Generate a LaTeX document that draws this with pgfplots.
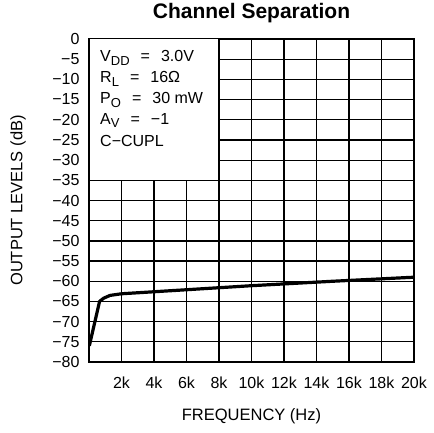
\documentclass[border=0pt]{standalone}
\usepackage{fontspec}
\setmainfont{Liberation Sans}
\usepackage{pgfplots}
\pgfplotsset{compat=1.18}
\newcommand{\sub}[1]{\raisebox{-0.45ex}{\fontsize{13}{13}\selectfont #1}}
\newcommand{\eq}{\hspace{11pt}=\hspace{11pt}}
\begin{document}
\begin{tikzpicture}
\begin{axis}[
  name=ax,
  scale only axis,
  width=325pt, height=323pt,
  xmin=0, xmax=20, ymin=-80, ymax=0,
  xtick={0,2,...,20},
  xticklabels={,2k,4k,6k,8k,10k,12k,14k,16k,18k,20k},
  ytick={-80,-75,...,0},
  yticklabels={−80,−75,−70,−65,−60,−55,−50,−45,−40,−35,−30,−25,−20,−15,−10,−5,0},
  tick label style={font=\fontsize{16}{16}\selectfont},
  xticklabel style={yshift=-11pt},
  yticklabel style={xshift=-6pt},
  grid=major,
  major grid style={black, line width=1.25pt},
  axis line style={black, line width=2pt},
  major tick length=0pt,
  xlabel={FREQUENCY (Hz)},
  ylabel={OUTPUT LEVELS (dB)},
  label style={font=\fontsize{16.5}{16.5}\selectfont},
  xlabel style={at={(axis description cs:0.5,-0.167)}, anchor=center},
  ylabel style={at={(axis description cs:-0.218,0.5)}, anchor=center},
  title={\textbf{Channel Separation}},
  title style={at={(axis description cs:0.5,1.062)}, anchor=center, font=\fontsize{21}{21}\selectfont},
]
\fill[white] (axis cs:0.08,-34.9) rectangle (axis cs:7.95,-0.1);
\draw[black, line width=1.25pt] (axis cs:0,-35) -- (axis cs:8,-35) -- (axis cs:8,0);
\addplot[black, line width=3.2pt, line join=round] coordinates {
  (0.02,-76) (0.65,-65) (0.9,-64.2) (1.3,-63.5) (2,-63.1) (5.6,-62.2) (10,-61.1) (15,-60.0) (20,-59)
};
\begin{scope}[every node/.style={anchor=west, font=\fontsize{16}{16}\selectfont, inner sep=0pt}]
\node at (axis cs:0.68,-4.7) {V\sub{DD}\eq 3.0V};
\node at (axis cs:0.68,-9.9) {R\sub{L}\eq 16Ω};
\node at (axis cs:0.68,-15.1) {P\sub{O}\eq 30 mW};
\node at (axis cs:0.68,-20.2) {A\sub{V}\eq −1};
\node at (axis cs:0.68,-25.3) {C−CUPL};
\end{scope}
\end{axis}
\pgfresetboundingbox
\path (ax.south west) ++(-89pt,-70pt) rectangle ++(434pt,432pt);
\end{tikzpicture}
\end{document}
